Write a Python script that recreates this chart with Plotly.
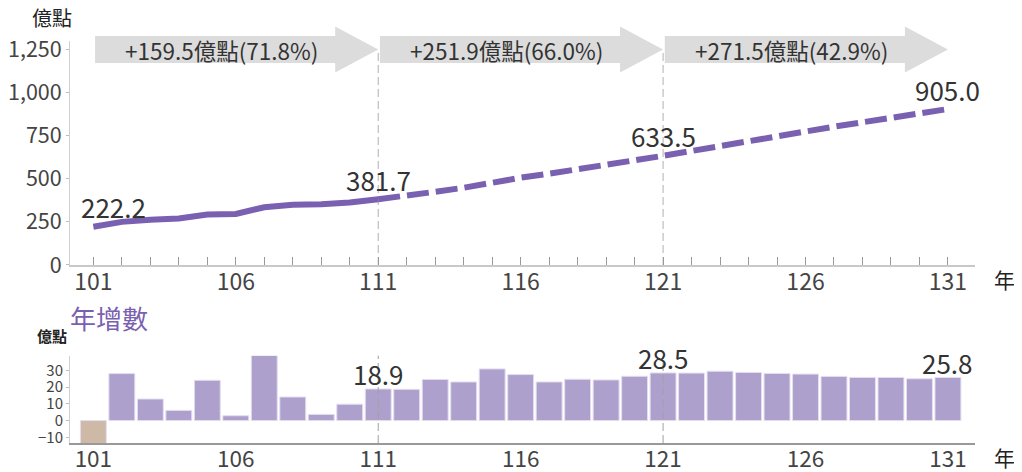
import plotly.graph_objects as go

# ---------------- data ----------------
years = list(range(101, 132))
# cumulative value (億點)
line_vals = [222.2, 250.3, 263.2, 269.3, 293.4, 296.3, 335.2, 349.3, 353.0, 362.8,
             381.7, 400.4, 425.0, 448.1, 479.0, 506.5, 529.6, 554.3, 578.6, 605.1,
             633.5, 661.9, 691.4, 720.2, 748.4, 776.2, 802.6, 828.4, 854.2, 879.2,
             905.0]
# yearly increase (億點)
inc_vals = [-14.0, 28.1, 12.9, 6.1, 24.1, 2.9, 38.9, 14.1, 3.7, 9.8,
            18.9, 18.7, 24.6, 23.1, 30.9, 27.5, 23.1, 24.7, 24.3, 26.5,
            28.5, 28.4, 29.5, 28.8, 28.2, 27.8, 26.4, 25.8, 25.8, 25.0,
            25.8]
split_year = 111
arrow_starts = [101, 111, 121]
arrow_ends = [111, 121, 131]
arrow_labels = ["+159.5億點(71.8%)", "+251.9億點(66.0%)", "+271.5億點(42.9%)"]
top_label_years = [101, 111, 121, 131]
bar_label_years = [111, 121, 131]
divider_years = [111, 121]
xtick_years = [101, 106, 111, 116, 121, 126, 131]
ytick_top = [0, 250, 500, 750, 1000, 1250]
ytick_bottom = [-10, 0, 10, 20, 30]

# ---------------- style ----------------
FONT = "Noto Sans CJK TC"
PURPLE = "#7a60b0"
BAR = "#ada0cc"
BAR_NEG = "#cdb9a5"
ARROW = "#dcdcdc"
TXT = "#333333"

fig = go.Figure()

si = years.index(split_year)
fig.add_trace(go.Scatter(x=years[:si + 1], y=line_vals[:si + 1], mode="lines",
                         line=dict(color=PURPLE, width=6), xaxis="x", yaxis="y",
                         hoverinfo="skip"))
fig.add_trace(go.Scatter(x=years[si:], y=line_vals[si:], mode="lines",
                         line=dict(color=PURPLE, width=6, dash="22px,7px"),
                         xaxis="x", yaxis="y", hoverinfo="skip"))
fig.add_trace(go.Bar(x=years, y=inc_vals, xaxis="x2", yaxis="y2",
                     marker=dict(color=[BAR_NEG if v < 0 else BAR for v in inc_vals],
                                 line=dict(color="#e4def0", width=1)),
                     hoverinfo="skip"))

shapes = []
# arrows (x in data, y in paper)
yc, bh, hh = 0.9789, 0.0336, 0.0572
head = 1.51
for s, e in zip(arrow_starts, arrow_ends):
    xs = s + 0.06
    xh = e - head
    path = (f"M {xs},{yc + bh} L {xh},{yc + bh} L {xh},{yc + hh} L {e},{yc} "
            f"L {xh},{yc - hh} L {xh},{yc - bh} L {xs},{yc - bh} Z")
    shapes.append(dict(type="path", path=path, xref="x", yref="paper",
                       fillcolor=ARROW, line=dict(width=0), layer="below"))
for d in divider_years:
    shapes.append(dict(type="line", xref="x", yref="y", x0=d, x1=d, y0=0, y1=1250,
                       line=dict(color="#b0b0b0", width=1, dash="8px,4px"), layer="below"))
    shapes.append(dict(type="line", xref="x2", yref="y2 domain", x0=d, x1=d, y0=0, y1=1,
                       line=dict(color="#a0a0a0", width=1, dash="8px,4px"), layer="above"))

annotations = []
for s, e, t in zip(arrow_starts, arrow_ends, arrow_labels):
    annotations.append(dict(x=(s + e - head) / 2 + 0.25, y=1250, xref="x", yref="y",
                            text=t, showarrow=False, xanchor="center", yanchor="middle",
                            font=dict(family=FONT, size=22.5, color=TXT)))
for yv in top_label_years:
    v = line_vals[years.index(yv)]
    annotations.append(dict(x=yv, y=v, xref="x", yref="y", text=f"{v:.1f}", showarrow=False,
                            xanchor="center", yanchor="middle",
                            xshift=20 if yv == years[0] else 0, yshift=20,
                            font=dict(family=FONT, size=26, color=TXT)))
for yv in bar_label_years:
    v = inc_vals[years.index(yv)]
    annotations.append(dict(x=yv, y=v, xref="x2", yref="y2", text=f"{v:.1f}", showarrow=False,
                            xanchor="center", yanchor="middle", yshift=15,
                            font=dict(family=FONT, size=26, color=TXT)))
annotations += [
    dict(x=-0.0199, y=1.0597, text="億點", font=dict(family=FONT, size=20, color="#222")),
    dict(x=1.0331, y=0.4080, text="年", font=dict(family=FONT, size=21, color="#222")),
    dict(x=1.0331, y=-0.0348, text="年", font=dict(family=FONT, size=21, color="#222")),
    dict(x=0.0431, y=0.3134, text="年增數", font=dict(family=FONT, size=26, color=PURPLE)),
    dict(x=-0.0199, y=0.2662, text="<b>億點</b>", font=dict(family=FONT, size=15, color="#222")),
]
for a in annotations[-5:]:
    a.update(xref="paper", yref="paper", showarrow=False, xanchor="center", yanchor="middle")

xrange = [100.18, 131.95]
fig.update_layout(
    width=1014, height=464,
    margin=dict(l=62, r=47, t=33, b=29, autoexpand=False),
    plot_bgcolor="white", paper_bgcolor="white",
    showlegend=False, bargap=0.09,
    font=dict(family=FONT, color=TXT),
    shapes=shapes, annotations=annotations,
    xaxis=dict(domain=[0, 1], range=xrange, anchor="y", automargin=False,
               tickvals=years, ticktext=[str(y) if y in xtick_years else "" for y in years],
               ticks="inside", ticklen=8, tickcolor="#999", tickwidth=1,
               ticklabelstandoff=-4,
               showline=True, linecolor="#c8c8c8", linewidth=1.5,
               showgrid=False, zeroline=False,
               tickfont=dict(family=FONT, size=23, color="#444")),
    yaxis=dict(domain=[0.4428, 1], range=[0, 1300], tickvals=ytick_top, tickformat=",",
               automargin=False,
               ticks="outside", ticklen=3, tickcolor="#bbb",
               showline=True, linecolor="#d0d0d0", linewidth=1,
               showgrid=False, zeroline=False,
               tickfont=dict(family=FONT, size=21.5, color="#444")),
    xaxis2=dict(domain=[0, 1], range=xrange, anchor="y2", automargin=False,
                tickvals=xtick_years, ticks="", ticklabelstandoff=-5,
                showline=True, linecolor="#999", linewidth=1.5,
                showgrid=False, zeroline=False,
                tickfont=dict(family=FONT, size=22.5, color="#444")),
    yaxis2=dict(domain=[0, 0.2172], range=[-13.4, 38.8], tickvals=ytick_bottom,
                automargin=False,
                ticks="outside", ticklen=3, tickcolor="#bbb",
                showline=True, linecolor="#d0d0d0", linewidth=1,
                showgrid=False, zeroline=False,
                tickfont=dict(family=FONT, size=15, color="#444")),
)

fig.write_html("out.html")
